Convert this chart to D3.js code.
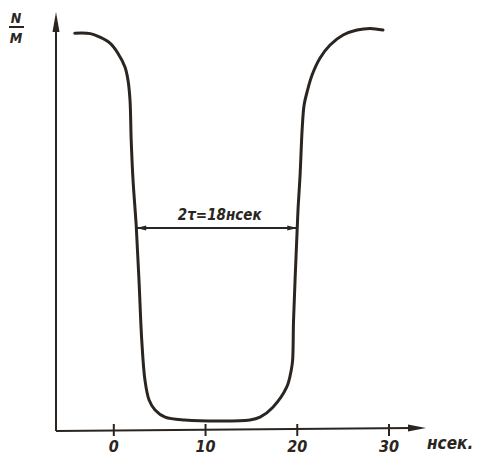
<!DOCTYPE html>
<html>
<head>
<meta charset="utf-8">
<script src="https://cdn.jsdelivr.net/npm/d3@7"></script>
<style>
  body { margin: 0; background: #fff; }
  svg text { font-family: "Liberation Sans Narrow", "DejaVu Sans Condensed", sans-serif; font-style: italic; font-weight: bold; fill: #2a2521; }
</style>
</head>
<body>
<svg id="chart"></svg>
<script>
(function() {
    'use strict';

    // time, nsec
    var times = [-4.2, -2.5, -1.45, -0.36, 0.5, 1.28, 1.6, 1.82, 1.95, 2.15, 2.5, 2.8, 3.1, 3.45, 3.9, 4.55, 5.65, 7.8,
                 14.9, 16.0, 17.4, 18.9, 19.4, 19.55, 19.65, 20.05, 20.15, 20.35, 20.6, 20.8, 21.12, 21.67, 22.54, 23.63, 25.05, 26.57, 28.0, 29.4];
    // N/M, relative
    var ratio = [0.992, 0.991, 0.982, 0.967, 0.942, 0.907, 0.875, 0.825, 0.725, 0.625, 0.51, 0.375, 0.225, 0.125, 0.075, 0.05, 0.032, 0.025,
                 0.025, 0.032, 0.057, 0.107, 0.15, 0.175, 0.275, 0.505, 0.557, 0.632, 0.757, 0.8125, 0.845, 0.8875, 0.93, 0.9625, 0.9875, 1.0, 1.004, 1.0];
    var tickValues = [0, 10, 20, 30];
    var widthMarker = [2.5, 20.05];   // 2τ span, nsec
    var widthLevel = 0.505;
    var widthLabel = "2τ=18нсек";

    var W = 483, H = 456,
        ink = "#2a2521",
        axisX = 56, axisY = 431;

    var svg = d3.select("#chart").attr("width", W).attr("height", H);

    var x = d3.scaleLinear().domain([0, 30]).range([113.3, 388.5]);
    var y = d3.scaleLinear().domain([0, 1]).range([430, 30]);

    var data = times.map(function(t, i) { return {t: t, v: ratio[i]}; });

    // axes
    svg.append("line")
        .attr("x1", axisX).attr("y1", axisY)
        .attr("x2", axisX).attr("y2", 28)
        .attr("stroke", ink).attr("stroke-width", 2);
    svg.append("path")
        .attr("d", "M" + axisX + ",12 L" + (axisX - 3.5) + ",32 L" + (axisX + 3.5) + ",32 Z")
        .attr("fill", ink);

    svg.append("line")
        .attr("x1", axisX).attr("y1", axisY)
        .attr("x2", 412).attr("y2", axisY - 3)
        .attr("stroke", ink).attr("stroke-width", 2);
    svg.append("path")
        .attr("d", "M426," + (axisY - 3) + " L408," + (axisY - 6.5) + " L408," + (axisY + 0.5) + " Z")
        .attr("fill", ink);

    var xAxis = d3.axisBottom(x)
        .tickValues(tickValues)
        .tickSize(12)
        .tickPadding(5)
        .tickFormat(d3.format("d"));
    var gx = svg.append("g")
        .attr("transform", "translate(0," + (axisY - 7) + ")")
        .call(xAxis);
    gx.select(".domain").remove();
    gx.selectAll(".tick line").attr("stroke", ink).attr("stroke-width", 2);
    gx.selectAll(".tick text")
        .attr("font-size", 16)
        .attr("fill", ink)
        .style("font-family", "'Liberation Sans Narrow', 'DejaVu Sans Condensed', sans-serif");

    svg.append("text")
        .attr("x", 427).attr("y", 449)
        .attr("font-size", 17)
        .text("нсек.");

    // y label N/M
    svg.append("text").attr("x", 16).attr("y", 23).attr("font-size", 14).attr("text-anchor", "middle").text("N");
    svg.append("line").attr("x1", 9).attr("x2", 24).attr("y1", 27).attr("y2", 27)
        .attr("stroke", ink).attr("stroke-width", 2);
    svg.append("text").attr("x", 16).attr("y", 43).attr("font-size", 14).attr("text-anchor", "middle").text("M");

    // curve
    var line = d3.line()
        .x(function(d) { return x(d.t); })
        .y(function(d) { return y(d.v); })
        .curve(d3.curveCatmullRom.alpha(0.5));
    svg.append("path")
        .datum(data)
        .attr("d", line)
        .attr("fill", "none")
        .attr("stroke", ink)
        .attr("stroke-width", 3)
        .attr("stroke-linecap", "round");

    // width marker
    var x0 = x(widthMarker[0]), x1 = x(widthMarker[1]), ym = y(widthLevel);
    svg.append("line")
        .attr("x1", x0).attr("x2", x1).attr("y1", ym).attr("y2", ym)
        .attr("stroke", ink).attr("stroke-width", 2);
    svg.append("path")
        .attr("d", "M" + x0 + "," + ym + " L" + (x0 + 10) + "," + (ym - 2.5) + " L" + (x0 + 10) + "," + (ym + 2.5) + " Z")
        .attr("fill", ink);
    svg.append("path")
        .attr("d", "M" + x1 + "," + ym + " L" + (x1 - 10) + "," + (ym - 2.5) + " L" + (x1 - 10) + "," + (ym + 2.5) + " Z")
        .attr("fill", ink);
    svg.append("text")
        .attr("x", (x0 + x1) / 2 + 3).attr("y", ym - 8)
        .attr("text-anchor", "middle")
        .attr("font-size", 15)
        .text(widthLabel);
})();
</script>
</body>
</html>
